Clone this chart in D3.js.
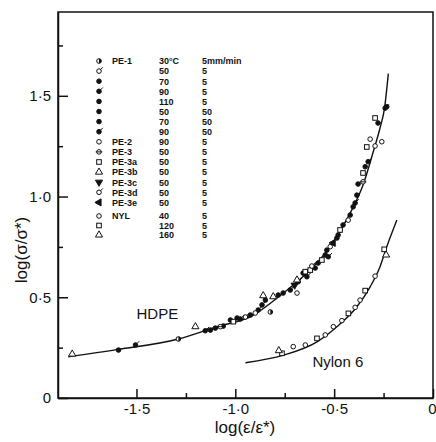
<!DOCTYPE html>
<html>
<head>
<meta charset="utf-8">
<script src="https://cdn.jsdelivr.net/npm/d3@7"></script>
<style>
  body { margin: 0; background: #fff; }
  text { font-family: "Liberation Sans", Arial, sans-serif; fill: #111; }
  .legend text { font-size: 9px; font-weight: bold; }
</style>
</head>
<body>
<svg id="chart" width="436" height="442"></svg>
<script>
// legend rows (HDPE samples, then nylon)
const seriesNames = ['PE-1', '', '', '', '', '', '', '', 'PE-2', 'PE-3', 'PE-3a', 'PE-3b', 'PE-3c', 'PE-3d', 'PE-3e', 'NYL', '', ''];
const seriesTemps = ['30°C', '50', '70', '90', '110', '50', '70', '90', '90', '50', '50', '50', '50', '50', '50', '40', '120', '160'];
const seriesRates = ['5mm/min', '5', '5', '5', '5', '50', '50', '50', '5', '5', '5', '5', '5', '5', '5', '5', '5', '5'];

// measured points, [log(e/e*), log(s/s*)]
const pe1_30_5 = [[-0.823, 0.427], [-1.288, 0.293]];
const pe1_50_5 = [[-0.949, 0.402], [-0.520, 0.751]];
const pe1_70_5 = [[-1.591, 0.238], [-1.101, 0.347], [-0.924, 0.412], [-0.596, 0.645], [-0.404, 0.949]];
const pe1_90_5 = [[-1.505, 0.263], [-1.152, 0.334], [-0.865, 0.462], [-0.581, 0.670], [-0.394, 0.968], [-0.242, 1.439]];
const pe1_110_5 = [[-1.061, 0.357], [-0.848, 0.486], [-0.545, 0.710], [-0.379, 1.062], [-0.343, 1.148]];
const pe1_50_50 = [[-1.126, 0.337], [-0.991, 0.397], [-0.783, 0.511], [-0.537, 0.734], [-0.385, 1.007], [-0.234, 1.446]];
const pe1_70_50 = [[-1.025, 0.387], [-0.758, 0.521], [-0.657, 0.620], [-0.486, 0.794], [-0.419, 0.908], [-0.278, 1.365]];
const pe1_90_50 = [[-0.975, 0.392], [-0.884, 0.437], [-0.722, 0.536], [-0.682, 0.577], [-0.638, 0.602], [-0.530, 0.701], [-0.480, 0.809], [-0.455, 0.859], [-0.328, 1.173]];
const pe2_90_5 = [[-0.899, 0.422], [-0.688, 0.521], [-0.429, 0.883], [-0.318, 1.285], [-0.293, 1.251], [-0.259, 1.272]];
const pe3_50_5 = [[-1.076, 0.354], [-0.354, 1.073]];
const pe3a_50_5 = [[-1.010, 0.379], [-0.646, 0.627], [-0.621, 0.635], [-0.562, 0.685], [-0.470, 0.834], [-0.354, 1.117], [-0.335, 1.246], [-0.293, 1.390]];
const pe3b_50_5 = [[-1.825, 0.218], [-1.202, 0.354], [-0.859, 0.508], [-0.808, 0.503], [-0.688, 0.586]];
const pe3c_50_5 = [[-0.700, 0.560]];
const pe3d_50_5 = [[-0.613, 0.655]];
const pe3e_50_5 = [[-0.505, 0.770]];
const nyl_40_5 = [[-0.707, 0.255], [-0.646, 0.263], [-0.545, 0.313], [-0.504, 0.354], [-0.461, 0.384], [-0.394, 0.450], [-0.369, 0.486], [-0.293, 0.605]];
const nyl_120_5 = [[-0.764, 0.222], [-0.587, 0.296], [-0.428, 0.420], [-0.343, 0.533], [-0.247, 0.738]];
const nyl_160_5 = [[-0.237, 0.710], [-0.780, 0.235]];

const seriesPoints = [pe1_30_5, pe1_50_5, pe1_70_5, pe1_90_5, pe1_110_5, pe1_50_50, pe1_70_50, pe1_90_50,
  pe2_90_5, pe3_50_5, pe3a_50_5, pe3b_50_5, pe3c_50_5, pe3d_50_5, pe3e_50_5, nyl_40_5, nyl_120_5, nyl_160_5];

// fitted master curves
const hdpeCurve = [[-1.845, 0.205], [-1.6, 0.24], [-1.288, 0.293], [-1.092, 0.354], [-0.924, 0.403], [-0.757, 0.521],
  [-0.638, 0.62], [-0.52, 0.751], [-0.419, 0.918], [-0.353, 1.06], [-0.30, 1.23], [-0.268, 1.34], [-0.245, 1.44], [-0.226, 1.61]];
const nylonCurve = [[-0.949, 0.175], [-0.756, 0.213], [-0.587, 0.279], [-0.486, 0.354], [-0.385, 0.453], [-0.318, 0.552],
  [-0.268, 0.652], [-0.234, 0.751], [-0.183, 0.883]];

const xMajor = [-1.5, -1.0, -0.5, 0];
const xMinor = [-1.25, -0.75, -0.25];
const yMajor = [0, 0.5, 1.0, 1.5];
const yMinor = [0.25, 0.75, 1.25, 1.75];

// symbol per legend row
const symbolKinds = ['half', 'stemOpen', 'filled', 'stemFilled', 'filled', 'filled', 'filled', 'stemFilled',
  'open', 'bar', 'square', 'triangle', 'triDown', 'stemOpen', 'triLeft', 'open', 'square', 'triangle'];

const svg = d3.select('#chart');
const x = d3.scaleLinear().domain([-1.897, 0]).range([58, 433]);
const y = d3.scaleLinear().domain([0, 1.916]).range([398, 12]);

const fmt = (d) => (d === 0 ? '0' : d3.format('.1f')(d).replace('.', '·').replace('−', '-'));

function drawSymbol(g, kind) {
  const r = 2.3;
  if (kind === 'square') {
    g.append('rect').attr('x', -r).attr('y', -r).attr('width', 2 * r).attr('height', 2 * r)
      .attr('fill', 'white').attr('stroke', '#111').attr('stroke-width', 1);
  } else if (kind === 'triangle' || kind === 'triDown' || kind === 'triLeft') {
    const path = d3.symbol().type(d3.symbolTriangle).size(22)();
    const rot = kind === 'triDown' ? 180 : kind === 'triLeft' ? -90 : 0;
    g.append('path').attr('d', path).attr('transform', `rotate(${rot})`)
      .attr('fill', kind === 'triangle' ? 'white' : '#111').attr('stroke', '#111').attr('stroke-width', 1);
  } else {
    const filled = kind === 'filled' || kind === 'stemFilled';
    g.append('circle').attr('r', r).attr('fill', filled ? '#111' : 'white')
      .attr('stroke', '#111').attr('stroke-width', 1);
    if (kind === 'half') {
      g.append('path').attr('d', d3.arc()({ innerRadius: 0, outerRadius: r, startAngle: 0, endAngle: Math.PI }))
        .attr('fill', '#111');
    }
    if (kind === 'bar') {
      g.append('line').attr('x1', -r - 1).attr('x2', r + 1).attr('stroke', '#111').attr('stroke-width', 1);
    }
    if (kind === 'stemOpen' || kind === 'stemFilled') {
      g.append('line').attr('x1', r * 0.7).attr('y1', -r * 0.7).attr('x2', r + 1.5).attr('y2', -r - 1.5)
        .attr('stroke', '#111').attr('stroke-width', 1);
    }
  }
}

// frame
svg.append('rect').attr('x', x(-1.897)).attr('y', y(1.916))
  .attr('width', x(0) - x(-1.897)).attr('height', y(0) - y(1.916))
  .attr('fill', 'none').attr('stroke', '#111').attr('stroke-width', 1.5);

// axes, ticks point inward
const xAxis = svg.append('g').attr('transform', `translate(0,${y(0)})`)
  .call(d3.axisBottom(x).tickValues(xMajor).tickSize(-9).tickSizeOuter(0).tickPadding(5).tickFormat(fmt));
svg.append('g').attr('transform', `translate(0,${y(0)})`)
  .call(d3.axisBottom(x).tickValues(xMinor).tickSize(-5).tickFormat(''))
  .call((g) => g.select('.domain').remove());
const yAxis = svg.append('g').attr('transform', `translate(${x(-1.897)},0)`)
  .call(d3.axisLeft(y).tickValues(yMajor).tickSize(-10).tickSizeOuter(0).tickPadding(7).tickFormat(fmt));
svg.append('g').attr('transform', `translate(${x(-1.897)},0)`)
  .call(d3.axisLeft(y).tickValues(yMinor).tickSize(-5).tickFormat(''))
  .call((g) => g.select('.domain').remove());

svg.selectAll('.tick line').attr('stroke', '#111').attr('stroke-width', 1.5);
svg.selectAll('.domain').attr('stroke', '#111').attr('stroke-width', 1.5);
[xAxis, yAxis].forEach((a) => a.selectAll('.tick text').style('font-size', '15px').style('font-family', '"Liberation Sans", Arial, sans-serif').attr('fill', '#111'));
// the last x label sits on the page edge; pull it in so it stays whole
xAxis.selectAll('.tick text').filter((d) => d === 0).attr('text-anchor', 'end').attr('dx', 3);

// axis titles
svg.append('text').attr('x', 245).attr('y', 433).attr('text-anchor', 'middle')
  .style('font-size', '17px').text('log(ε/ε*)');
svg.append('text').attr('transform', 'translate(27,250) rotate(-90)').attr('text-anchor', 'middle')
  .style('font-size', '17px').text('log(σ/σ*)');

// curves
const line = d3.line().x((d) => x(d[0])).y((d) => y(d[1])).curve(d3.curveMonotoneX);
[hdpeCurve, nylonCurve].forEach((c) => {
  svg.append('path').attr('d', line(c)).attr('fill', 'none').attr('stroke', '#111').attr('stroke-width', 1.4);
});

// points
seriesPoints.forEach((pts, i) => {
  svg.append('g').selectAll('g').data(pts).join('g')
    .attr('transform', (d) => `translate(${x(d[0])},${y(d[1])})`)
    .each(function () { drawSymbol(d3.select(this), symbolKinds[i]); });
});

svg.append('text').attr('x', x(-1.5)).attr('y', y(0.39)).style('font-size', '15px').text('HDPE');
svg.append('text').attr('x', x(-0.61)).attr('y', y(0.154)).style('font-size', '15px').text('Nylon 6');

// legend
const legend = svg.append('g').attr('class', 'legend');
const rowY = (i) => (i < 15 ? 61 + i * 10.1 : 216 + (i - 15) * 9.5);
seriesNames.forEach((name, i) => {
  const row = legend.append('g').attr('transform', `translate(0,${rowY(i)})`);
  drawSymbol(row.append('g').attr('transform', 'translate(99,0)'), symbolKinds[i]);
  row.append('text').attr('x', 112).attr('y', 3.3).text(name);
  row.append('text').attr('x', 159).attr('y', 3.3).text(seriesTemps[i]);
  row.append('text').attr('x', 202).attr('y', 3.3).text(seriesRates[i]);
});
</script>
</body>
</html>
